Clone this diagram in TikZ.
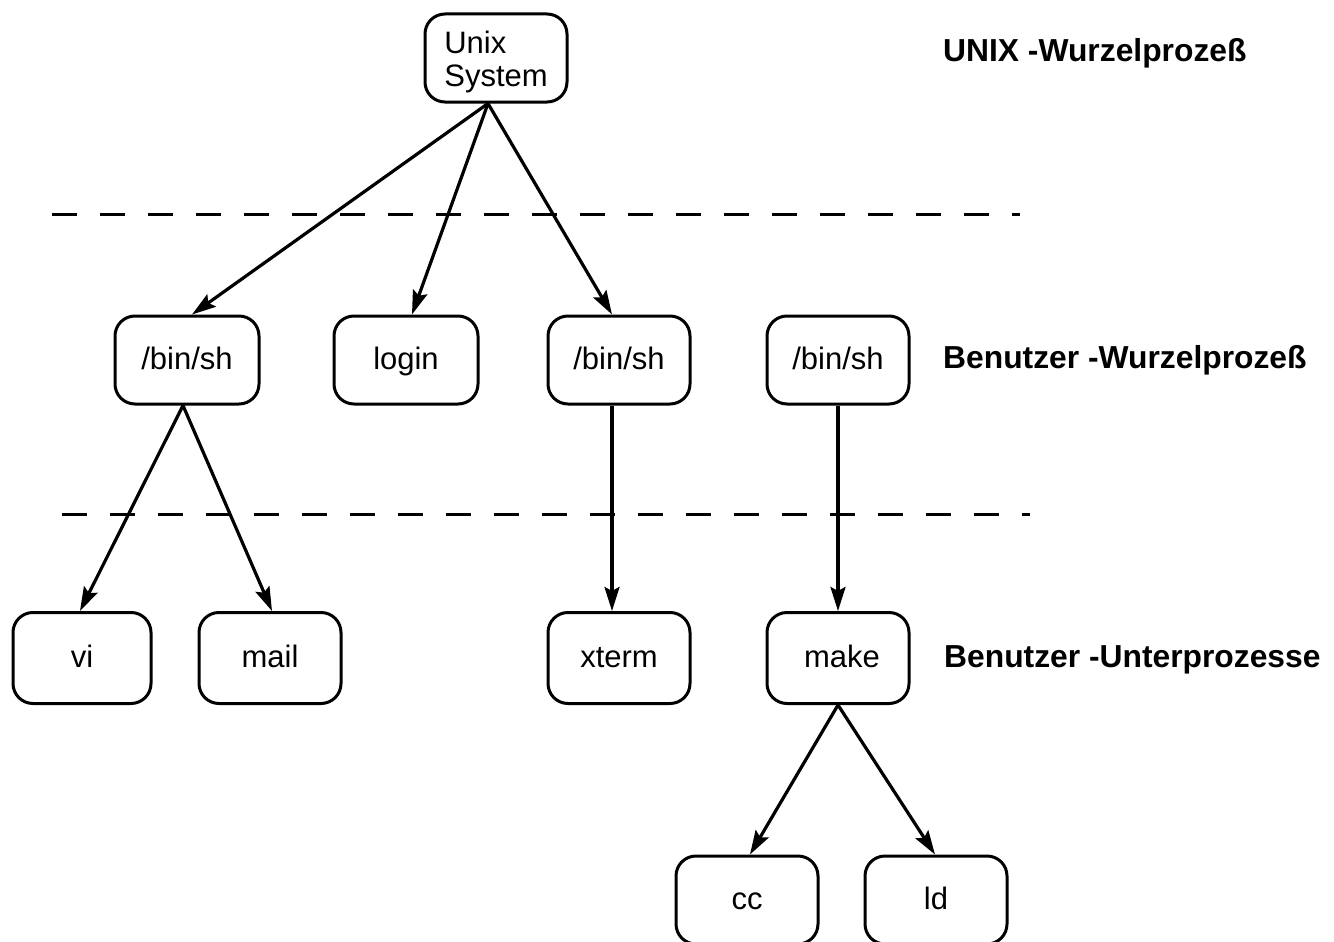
\documentclass[tikz,border=0pt]{standalone}
\usepackage{fontspec}
\setmainfont{Liberation Sans}
\usetikzlibrary{arrows.meta,calc}
\begin{document}
\begin{tikzpicture}[x=1pt,y=-1pt,
 box/.style={draw,line width=3pt,rounded corners=20pt,minimum width=142pt,minimum height=88pt,inner sep=0pt,font=\fontsize{31}{33}\selectfont},
 onel/.style={text height=23pt,text depth=5pt},
 arr/.style={line width=3.2pt,-{Stealth[length=24pt,width=15pt,inset=4pt]}},
 sep/.style={line width=3pt,dash pattern=on 25pt off 23pt},
 lab/.style={font=\fontsize{31.8}{33}\selectfont\bfseries,anchor=base west,inner sep=0pt}]
\useasboundingbox (0,0) rectangle (1334,942);
% nodes
\node[box,align=left] (unix) at (496,58) {\rule{0pt}{31pt}Unix\\System};
\node[box,onel,minimum width=144pt] (bin1) at (187,360) {/bin/sh};
\node[box,onel,minimum width=144pt] (login) at (406,360) {login};
\node[box,onel] (bin2) at (619,360) {/bin/sh};
\node[box,onel] (bin3) at (838,360) {/bin/sh};
\node[box,onel,minimum width=138pt,minimum height=91pt] (vi) at (82,658) {vi};
\node[box,onel,minimum height=91pt] (mail) at (270,658) {mail};
\node[box,onel,minimum height=91pt] (xterm) at (619,658) {xterm};
\node[box,onel,minimum height=91pt] (make) at (838,658) {\hspace{8pt}make};
\node[box,onel] (cc) at (747,900) {cc};
\node[box,onel] (ld) at (936,900) {ld};
% labels
\node[lab] (l1) at (943,62) {UNIX -Wurzelprozeß};
\node[lab] (l2) at (943,368) {Benutzer -Wurzelprozeß};
\node[lab] (l3) at (944,667) {Benutzer -Unterprozesse};
% dashed separators
\coordinate (d1a) at (52,214); \coordinate (d1b) at (1020,214);
\coordinate (d2a) at (62,514); \coordinate (d2b) at (1030,514);
\draw[sep] (d1a) -- (d1b);
\draw[sep] (d2a) -- (d2b);
% arrows
\draw[arr] ($(unix.south)+(-8,0)$) -- ($(bin1.north)+(5,0)$);
\draw[arr] ($(unix.south)+(-8,0)$) -- ($(login.north)+(6,0)$);
\draw[arr] ($(unix.south)+(-8,0)$) -- ($(bin2.north)+(-7,0)$);
\draw[arr] ($(bin1.south)+(-4,0)$) -- ($(vi.north)+(-2,0)$);
\draw[arr] ($(bin1.south)+(-4,0)$) -- ($(mail.north)+(2,0)$);
\draw[arr] ($(bin2.south)+(-7,0)$) -- ($(xterm.north)+(-7,0)$);
\draw[arr] (bin3.south) -- (make.north);
\draw[arr] (make.south) -- ($(cc.north)+(3,0)$);
\draw[arr] (make.south) -- ($(ld.north)+(-1,0)$);
\end{tikzpicture}
\end{document}
